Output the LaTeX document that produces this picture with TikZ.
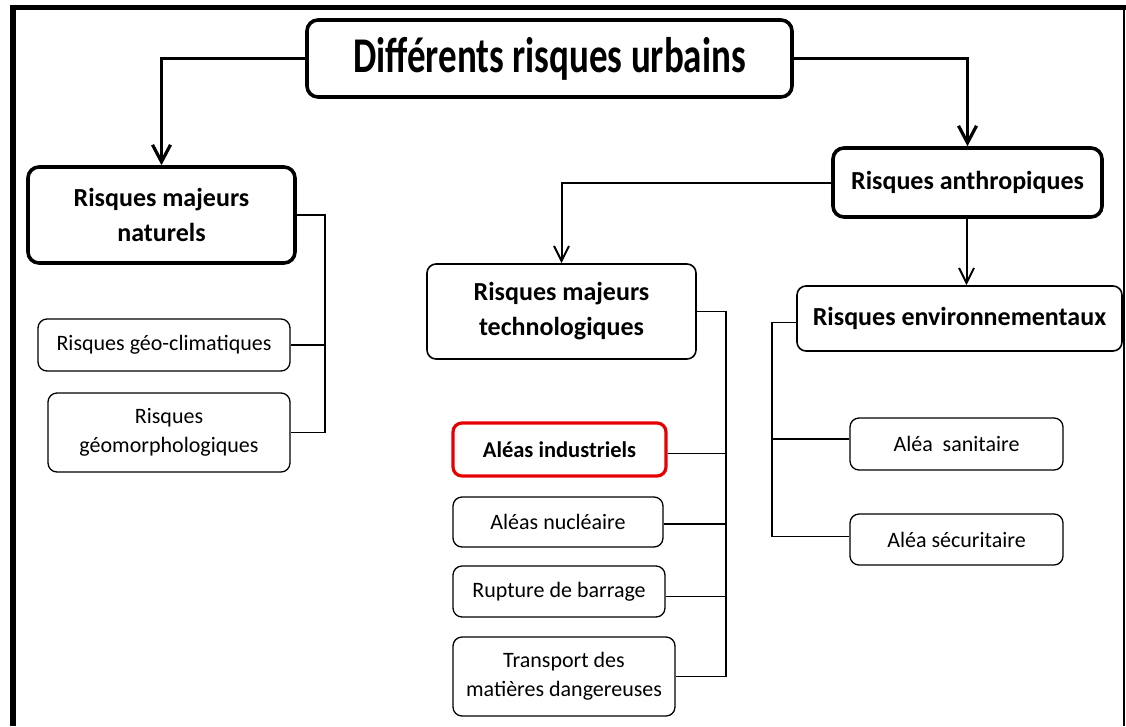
\documentclass[tikz,border=0pt]{standalone}
\usepackage{fontspec}
\setmainfont{Carlito}
\newfontfamily\titlefont{Carlito}[FakeStretch=0.74]
\usetikzlibrary{arrows.meta}
\tikzset{
  box/.style={draw, rounded corners=9pt, line width=1.3pt, align=center, inner sep=0pt,
    font=\fontsize{22}{29}\selectfont},
  boldbox/.style={box, font=\bfseries\fontsize{26}{35}\selectfont},
  thickbox/.style={boldbox, line width=3.6pt, rounded corners=11pt},
  redbox/.style={box, draw={rgb,255:red,230;green,0;blue,0}, line width=3.2pt, font=\bfseries\fontsize{22.5}{29}\selectfont},
  bigarrow/.style={line width=3.6pt, -{Straight Barb[length=17pt,width=18pt,line width=3.2pt]}},
  midarrow/.style={line width=2pt, -{Straight Barb[length=15pt,width=15pt,line width=2pt]}},
  bus/.style={line width=1.4pt},
}
\begin{document}
\begin{tikzpicture}[x=1pt,y=-1pt]
\useasboundingbox (0,0) rectangle (1126,726);
% frame
\fill (10,5) rectangle (16,726);
\fill (10,5) rectangle (1126,10);
\draw[line width=2pt] (1124,10) -- (1124,726);

% nodes
\node[thickbox, minimum width=485pt, minimum height=77pt, font=\titlefont\bfseries\fontsize{50}{54}\selectfont] (title) at (549.5,58.5) {Différents risques urbains};
\node[thickbox, minimum width=267pt, minimum height=96pt] (nat) at (161.5,215) {Risques majeurs\\naturels};
\node[box, minimum width=252pt, minimum height=52pt] (geo) at (164,345) {Risques géo-climatiques};
\node[box, minimum width=242pt, minimum height=79pt] (geom) at (169,432.5) {Risques\\géomorphologiques};

\node[thickbox, minimum width=269pt, minimum height=69pt] (anth) at (967.5,182.5) {Risques anthropiques};
\node[boldbox, line width=1.6pt, minimum width=269pt, minimum height=95pt] (tech) at (561.5,311.5) {Risques majeurs\\technologiques};
\node[redbox, minimum width=213pt, minimum height=53pt] (ind) at (559.5,449.5) {Aléas industriels};
\node[box, minimum width=210pt, minimum height=50pt] (nuc) at (558,522) {Aléas nucléaire};
\node[box, minimum width=212pt, minimum height=51pt] (rup) at (559,591.5) {Rupture de barrage};
\node[box, minimum width=222pt, minimum height=79pt] (trans) at (564,676.5) {Transport des\\matières dangereuses};

\node[boldbox, line width=1.6pt, minimum width=325pt, minimum height=65pt] (env) at (959.5,318.5) {Risques environnementaux};
\node[box, minimum width=213pt, minimum height=52pt] (san) at (956.5,444) {Aléa\ \ sanitaire};
\node[box, minimum width=213pt, minimum height=51pt] (sec) at (956.5,539.5) {Aléa sécuritaire};

% main arrows
\draw[bigarrow] (title.west) -| (nat.north);
\draw[bigarrow] (title.east) -| (anth.north);
\draw[midarrow] (anth.west) -| (tech.north);
\draw[midarrow] ([xshift=-1pt]anth.south) -- ([xshift=-1pt]anth.south |- env.north);

% buses
\coordinate (nb) at (325,0);
\draw[bus] (nat.east) -- (nat.east -| nb) |- (geom.east);
\draw[bus] (geo.east) -- (geo.east -| nb);

\coordinate (tb) at (726,0);
\draw[bus] (tech.east) -- (tech.east -| tb) |- (trans.east);
\draw[bus] ([yshift=-4pt]ind.east) -- ([yshift=-4pt]ind.east -| tb);
\draw[bus] ([yshift=-2pt]nuc.east) -- ([yshift=-2pt]nuc.east -| tb);
\draw[bus] ([yshift=-5pt]rup.east) -- ([yshift=-5pt]rup.east -| tb);

\coordinate (eb) at (772,0);
\draw[bus] ([yshift=-4pt]env.west) -- ([yshift=-4pt]env.west -| eb) |- ([yshift=3pt]sec.west);
\draw[bus] ([yshift=5pt]san.west) -- ([yshift=5pt]san.west -| eb);
\end{tikzpicture}
\end{document}
